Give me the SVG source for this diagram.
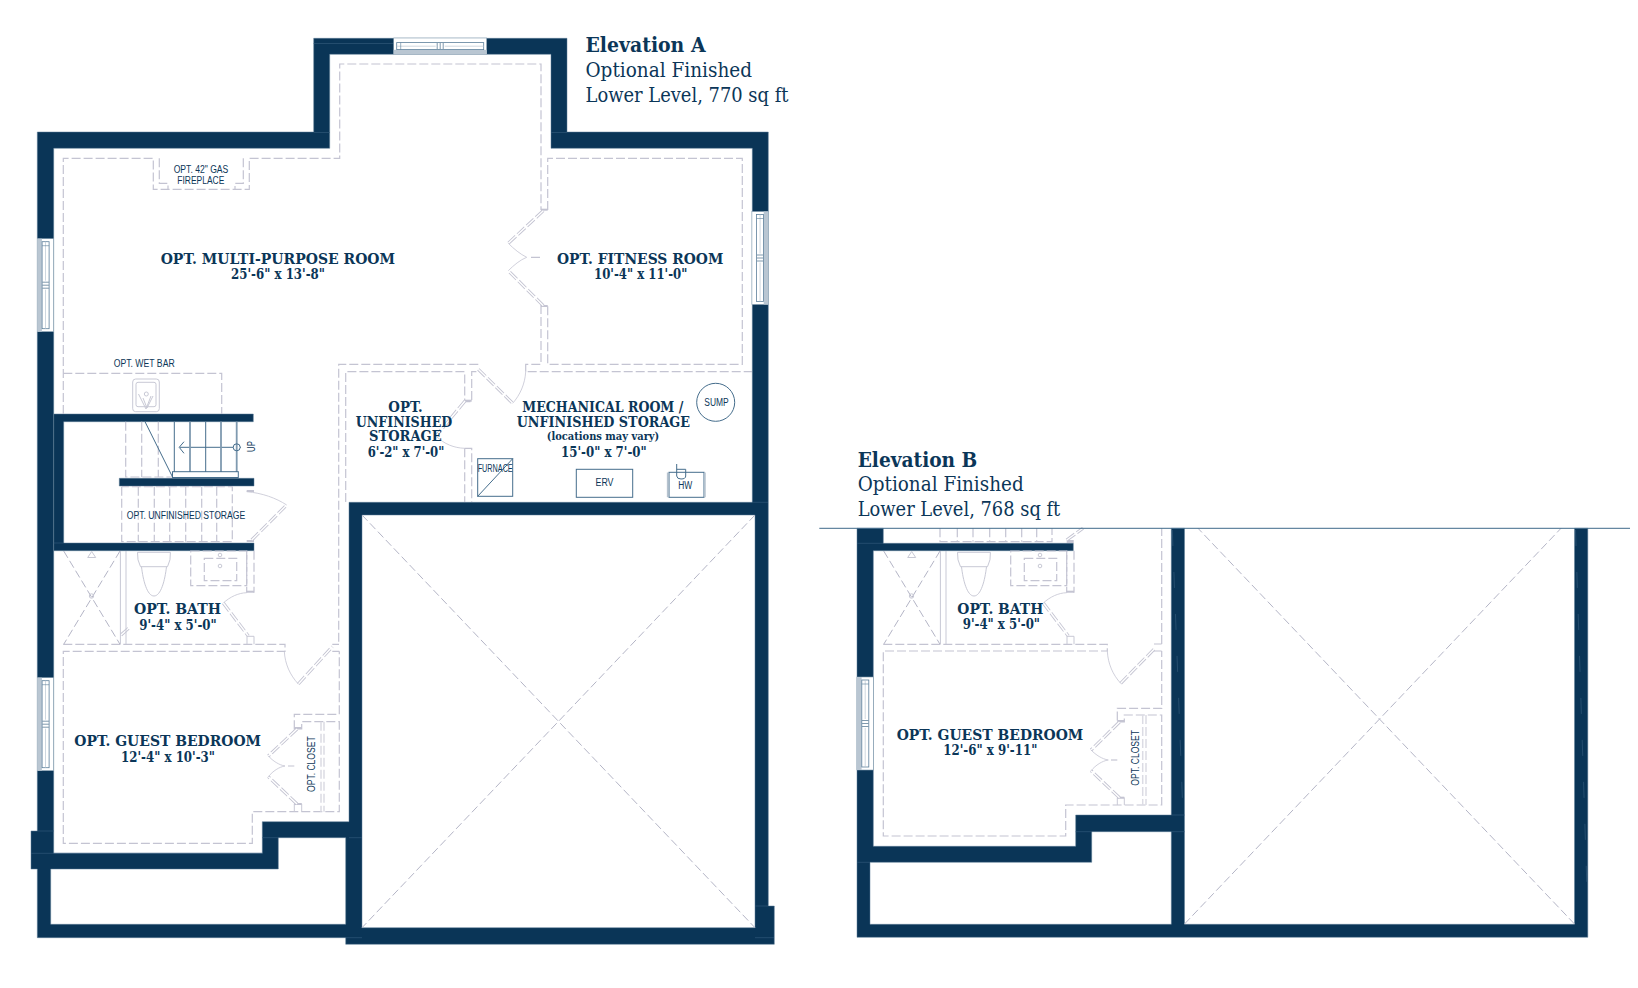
<svg xmlns="http://www.w3.org/2000/svg" xmlns:xlink="http://www.w3.org/1999/xlink" width="1638" height="988" viewBox="0 0 1638 988">
<style>
.wall{fill:#0a3557;fill-rule:evenodd;stroke:#5f7f99;stroke-width:.5}
.seam{stroke:#2f5878;stroke-width:.7;fill:none}
.streak{stroke:#2f5878;stroke-width:.7;fill:none;stroke-dasharray:16 26}
.dash{fill:none;stroke:#c4c4d2;stroke-width:1.2;stroke-dasharray:9 3}
.dashl{fill:none;stroke:#dcdce4;stroke-width:1.5;stroke-dasharray:9 3}
.diag{fill:none;stroke:#b4b5c6;stroke-width:1;stroke-dasharray:8 3.5}
.arc{fill:none;stroke:#c4c4d2;stroke-width:.8}
.solid{fill:none;stroke:#c8c9d5;stroke-width:1}
.dro{fill:none;stroke:#c4c4d2;stroke-width:3.2;stroke-dasharray:10 2.5}
.dri{fill:none;stroke:#fff;stroke-width:1.4}
.jamb{fill:#c4c4d2}
.eq{fill:none;stroke:#456d8c;stroke-width:1}
.eqt{fill:none;stroke:#7f9ab0;stroke-width:1.8}
.eqg{fill:none;stroke:#b7c3cf;stroke-width:1.5}
.t{font-family:"DejaVu Serif","Liberation Serif",serif;fill:#0b3658}
.b{font-weight:700;font-size:15px}
.h{font-weight:700;font-size:20px}
.s{font-size:20px}
.n{font-weight:700;font-size:11.5px}
.l{font-family:"Liberation Sans",Arial,sans-serif;fill:#0b3658;font-size:10px}
.c{font-size:11.5px}
</style>
<defs>
<g id="win">
<rect width="16.4" height="93" fill="#fff" stroke="#7f99ad" stroke-width=".6"/>
<rect width="4.6" height="93" fill="#b9c6d2"/>
<rect x="4.8" y="3" width="7" height="87" fill="none" stroke="#5c7f9b" stroke-width=".8"/>
<path d="M8.2 3V42M8.2 51V90" stroke="#b9c6d2" stroke-width=".7" fill="none"/>
<path d="M4.8 43.5H11.8M4.8 46.5H11.8M4.8 49.5H11.8" stroke="#7f99ad" stroke-width="1" fill="none"/>
<path d="M4.8 7H11.8" stroke="#5c7f9b" stroke-width=".6" fill="none"/>
</g>
<g id="sink">
<rect x="132.7" y="379" width="26.6" height="32.7" rx="3" class="solid"/>
<rect x="136" y="382.3" width="20" height="24.4" rx="2" class="solid"/>
<circle cx="146.3" cy="394" r="2" class="solid"/>
<path d="M138.5 394L146 409L151 396M143 398L147 408L153 396" class="solid"/>
</g>
<path id="bathDoor" d="M223.3 603L248.3 636"/>
<g id="bathFix">
<path class="diag" d="M63.7 551L120 644.3M120 551L63.7 644.3"/>
<circle cx="91.5" cy="596" r="2.2" class="solid"/>
<path class="solid" d="M87.7 557.5H95.7L91.7 551.5Z"/>
<path class="solid" d="M120.4 551V644M126 551V644" stroke-width="1.3"/>
<path class="solid" d="M137.5 552.3H170.4Q171 560 167.5 566.7H140.5Q137 560 137.5 552.3ZM141.5 566.7C143 580 147 596 154 596C161 596 165 580 166.5 566.7"/>
<rect x="190.7" y="551" width="56" height="34.7" class="dash"/>
<rect x="204.3" y="558.3" width="32.4" height="22.4" class="dash"/>
<circle cx="220" cy="555" r="1.8" class="solid"/>
<circle cx="220" cy="566" r="1.8" class="solid"/>
<path class="dash" d="M254 550.7V592.7M246.7 550.7V592.7"/>
<rect class="jamb" x="246.7" y="590.7" width="7.3" height="2"/>
<path class="arc" d="M246.7 592.7C238 593 230 597 223.3 603"/>
<use href="#bathDoor" class="dro"/>
<use href="#bathDoor" class="dri"/>
<path class="solid" d="M247 644.3V636.3H254V644.3"/>
</g>
<path id="doorsA" d="M465 401L436 436M478.3 369.3L512.7 403.3M543.3 210.7L508.3 243.3M543.3 305.7L508.3 270.7M297 729L268.3 756M297 804L268.3 776.7M251.7 540L286.7 505M298.3 684L332.3 646.7M121 635L130 627"/>
<path id="doorsB" d="M1119.5 722L1091 750M1119.5 797.7L1091 770.7M1120.7 683.3L1154 649.3M1066.7 540L1083 528.3"/>
</defs>
<g id="plan-a">
<g id="walls-a">
<path class="wall" d="M37.3 132H313.7V38.3H567V132H768.3V906H774.3V944.3H345.7V937.7H37.3V869H31V831H37.3ZM53.7 148.3H329.7V54.3H551V148.3H752.3V502.3H349V821.7H262.3V853.3H53.7ZM50.7 869H278.3V837.7H345.7V924.3H50.7ZM362 515H755V927.7H362Z"/>
<path class="wall" d="M53.7 414H253.3V421.7H63.7V543H254V550.7H53.7ZM119.3 478.3H254V486H119.3Z"/>
<path class="seam" d="M313.7 43.5H393.5M329.7 132.5H313.7M551 132.5H567M752.3 502.3H768M37.3 831H53.7M31 853.3H262.3M262.3 837.7H278.3M349 837.7H362M345.7 937.7H362M755 937.7H774M53.7 543H63.7M755 906H768"/>
</g>
<g id="windows-a">
<use href="#win" transform="translate(37.3 238.7)"/>
<use href="#win" transform="translate(37.3 677.7)"/>
<use href="#win" transform="translate(768.3 211.5) scale(-1 1)"/>
<use href="#win" transform="translate(393.7 54.4) rotate(-90)"/>
</g>
<g id="interior-a">
<path class="dash" d="M63.3 414V158.3H153.3V189.3H249.3V158.3H339.7V64H541V210M547.7 210V158.3H742.3V364.3H547.7V305M541 305V364.3H525.7V371.7H752M478.3 364.3H338.7V644.3M345.7 502V371.7H464.7V401.7H471.7V371.7H478M464.7 448.3V502M464.7 448.3H471.7V502M159.3 158.3V183.3H168V189M243.3 158.3V183.3H235V189M63.3 373.3H221.7V414M525.7 364.3V371.7"/>
<path class="dash" d="M63.3 644.3H285V651.3H63.3V843.3H252.3V811.7H339.3V721.7H301.7V729H294.3V714.3H339.3V651.3M332.3 651.3H339.3M332.3 644.3H339"/>
<path class="solid" d="M294.3 811.7V804H301.7V811.7"/>
<path class="dashl" d="M321 721.7V811.7M324 721.7V811.7"/>
<rect class="jamb" x="541" y="208.7" width="6.7" height="2"/>
<rect class="jamb" x="541" y="305" width="6.7" height="2"/>
<rect class="jamb" x="464.7" y="399.7" width="7" height="2"/>
<rect class="jamb" x="294.3" y="727" width="7.4" height="2"/>
<rect class="jamb" x="294.3" y="803" width="7.4" height="2"/>
<rect class="jamb" x="246.7" y="490" width="7.3" height="2"/>
<rect class="jamb" x="246.7" y="540" width="7.3" height="2"/>
<use href="#doorsA" class="dro"/>
<use href="#doorsA" class="dri"/>
<path class="arc" d="M436 436C444 444 454 448 464.7 448.3M512.7 403.3C520 395 525 384 525.7 371.7M508.3 243.3C514 249 520 254 526.7 257.3M508.3 270.7C514 265 520 260 526.7 257.3M268.3 756C273 761 279 765 285 766M268.3 776.7C273 771 279 767 285 766M246.7 491.7C262 493 276 498 286.7 505M284.3 651.3C285 664 290 675 298.3 684"/>
<path class="dash" d="M531 257.3H541M288 766H294.3"/>
<use href="#bathFix"/>
<use href="#sink"/>
<path class="dash" d="M125.7 421.7V477H172M141.7 421.7V477M158.3 421.7V477"/>
<path class="dash" d="M121.7 486.7V541.7H232.3V486.7H121.7M138.3 486.7V541.7M154.3 486.7V541.7M169.7 486.7V541.7M185.7 486.7V541.7M201.7 486.7V541.7M216.7 486.7V541.7"/>
<path class="eq" d="M145 421.7L172.7 477.3M174.3 421.7V472M205.7 421.7V472M180 447.3H233.2M240.2 447.3H241M184 441.7L179.2 447.3L184 453.3"/>
<path class="eqt" d="M190 421.7V472M221 421.7V472M236.7 421.7V472"/>
<rect class="eq" x="172.5" y="471.7" width="65.8" height="5.8"/>
<circle class="eq" cx="236.7" cy="447.3" r="3.5"/>
</g>
<g id="equipment-a">
<circle class="eq" cx="715.7" cy="402.3" r="19"/>
<rect class="eq" x="477.7" y="458.7" width="35" height="37.6"/>
<path class="eq" d="M477.7 496.3L512.7 458.7"/>
<rect class="eq" x="576.3" y="469.3" width="56.4" height="28"/>
<rect class="eq" x="669" y="472.3" width="35" height="25"/>
<path class="eqg" d="M667.6 472.5V497.3M705 472.5V497.3"/>
<path class="eq" d="M676.7 464V476Q677 479 681 479Q685.7 479 685.7 476V469.3H676.7"/>
</g>
<path class="diag" d="M362 515L755 927.7M755 515L362 927.7"/>
<g id="labels-a">
<text class="t h" x="585.5" y="52.3" textLength="120" lengthAdjust="spacingAndGlyphs">Elevation A</text>
<text class="t s" x="585.5" y="77.3" textLength="166.5" lengthAdjust="spacingAndGlyphs">Optional Finished</text>
<text class="t s" x="585.5" y="101.7" textLength="203" lengthAdjust="spacingAndGlyphs">Lower Level, 770 sq ft</text>
<text class="t b" x="160.7" y="264.3" textLength="234.3" lengthAdjust="spacingAndGlyphs">OPT. MULTI-PURPOSE ROOM</text>
<text class="t b" x="231" y="279.3" textLength="94" lengthAdjust="spacingAndGlyphs">25'-6" x 13'-8"</text>
<text class="t b" x="557" y="264.3" textLength="166.3" lengthAdjust="spacingAndGlyphs">OPT. FITNESS ROOM</text>
<text class="t b" x="594" y="279.3" textLength="93.3" lengthAdjust="spacingAndGlyphs">10'-4" x 11'-0"</text>
<text class="t b" x="388.3" y="411.7" textLength="34.4" lengthAdjust="spacingAndGlyphs">OPT.</text>
<text class="t b" x="355.7" y="426.7" textLength="96.6" lengthAdjust="spacingAndGlyphs">UNFINISHED</text>
<text class="t b" x="369" y="441" textLength="72.7" lengthAdjust="spacingAndGlyphs">STORAGE</text>
<text class="t b" x="367.7" y="457" textLength="76.6" lengthAdjust="spacingAndGlyphs">6'-2" x 7'-0"</text>
<text class="t b" x="522.3" y="411.7" textLength="161" lengthAdjust="spacingAndGlyphs">MECHANICAL ROOM /</text>
<text class="t b" x="516.7" y="426.7" textLength="173.3" lengthAdjust="spacingAndGlyphs">UNFINISHED STORAGE</text>
<text class="t n" x="546.7" y="440.3" textLength="112.6" lengthAdjust="spacingAndGlyphs">(locations may vary)</text>
<text class="t b" x="561" y="457" textLength="85.7" lengthAdjust="spacingAndGlyphs">15'-0" x 7'-0"</text>
<text class="t b" x="134" y="614" textLength="87" lengthAdjust="spacingAndGlyphs">OPT. BATH</text>
<text class="t b" x="139.3" y="630" textLength="77.4" lengthAdjust="spacingAndGlyphs">9'-4" x 5'-0"</text>
<text class="t b" x="74.3" y="745.7" textLength="186.7" lengthAdjust="spacingAndGlyphs">OPT. GUEST BEDROOM</text>
<text class="t b" x="121" y="761.7" textLength="94" lengthAdjust="spacingAndGlyphs">12'-4" x 10'-3"</text>
<text class="l" x="173.7" y="173" textLength="54.6" lengthAdjust="spacingAndGlyphs">OPT. 42" GAS</text>
<text class="l" x="177.3" y="184" textLength="47" lengthAdjust="spacingAndGlyphs">FIREPLACE</text>
<text class="l" x="113.7" y="366.7" textLength="61" lengthAdjust="spacingAndGlyphs">OPT. WET BAR</text>
<text class="l" x="126.7" y="518.7" textLength="118.6" lengthAdjust="spacingAndGlyphs">OPT. UNFINISHED STORAGE</text>
<text class="l" x="704.3" y="405.7" textLength="24.4" lengthAdjust="spacingAndGlyphs">SUMP</text>
<text class="l" x="477.7" y="472" textLength="35" lengthAdjust="spacingAndGlyphs">FURNACE</text>
<text class="l" x="595.5" y="486" textLength="18" lengthAdjust="spacingAndGlyphs">ERV</text>
<text class="l" x="678.3" y="489" textLength="14" lengthAdjust="spacingAndGlyphs">HW</text>
<text class="l" transform="translate(255 452) rotate(-90)" textLength="11" lengthAdjust="spacingAndGlyphs">UP</text>
<text class="l c" transform="translate(315 792) rotate(-90)" textLength="55.7" lengthAdjust="spacingAndGlyphs">OPT. CLOSET</text>
</g>
</g>
<g id="plan-b">
<g id="walls-b">
<path class="wall" d="M857 528.3H883.3V543.3H1073.3V550.7H873.3V846.3H1075.7V815H1171.3V528.3H1184.5V924.3H1574.5V528.3H1587.8V937.3H857ZM870 862.3H1091.7V831.7H1171.3V924.3H870Z"/>
<path class="streak" d="M1172.3 530L1183 815M1575.5 530L1587 890"/>
<path class="seam" d="M857 862.3H870M1075.7 831.7H1091.7M1171.3 815H1184.5M1171.3 831.7H1184.5M857 543.3H883"/>
</g>
<use href="#win" transform="translate(857 677)"/>
<g id="interior-b">
<use href="#bathFix" transform="translate(820 0)"/>
<path class="dash" d="M883.3 644.3H1107.3V651H883.3V836H1065.7V805H1161.7V715H1124.3V722H1117.3V708.3H1161.7V651M1154 651H1161.7M1154 644H1161.7M1161.7 644V528.3"/>
<path class="solid" d="M1117.3 805V797.7H1124.3V805"/>
<path class="dashl" d="M1142.7 715V805M1146 715V805"/>
<path class="dash" d="M940 528.3V541.7H1052V528.3M957.3 528.3V541.7M973 528.3V541.7M989.7 528.3V541.7M1005.7 528.3V541.7M1021.7 528.3V541.7M1036.7 528.3V541.7"/>
<rect class="jamb" x="1117.3" y="720" width="7" height="2"/>
<rect class="jamb" x="1117.3" y="796.7" width="7" height="2"/>
<rect class="jamb" x="1066.7" y="540" width="7" height="3"/>
<use href="#doorsB" class="dro"/>
<use href="#doorsB" class="dri"/>
<path class="arc" d="M1091 750C1096 755 1102 759 1108.3 760M1091 770.7C1096 765 1102 761 1108.3 760M1107.3 651C1108 664 1113 675 1120.7 683.3"/>
<path class="dash" d="M1111 760H1117.3"/>
</g>
<path class="diag" d="M1184.5 924L1561 528.3M1574.5 924L1198 528.3"/>
<path id="divider" d="M819.3 528.3H1630" stroke="#3f6a8a" stroke-width="1" fill="none"/>
<g id="labels-b">
<text class="t h" x="857.7" y="466.7" textLength="119.6" lengthAdjust="spacingAndGlyphs">Elevation B</text>
<text class="t s" x="857.7" y="491" textLength="166" lengthAdjust="spacingAndGlyphs">Optional Finished</text>
<text class="t s" x="857.7" y="516" textLength="202.6" lengthAdjust="spacingAndGlyphs">Lower Level, 768 sq ft</text>
<text class="t b" x="957.3" y="614" textLength="86" lengthAdjust="spacingAndGlyphs">OPT. BATH</text>
<text class="t b" x="962.7" y="629.3" textLength="77.3" lengthAdjust="spacingAndGlyphs">9'-4" x 5'-0"</text>
<text class="t b" x="896.7" y="740" textLength="186.6" lengthAdjust="spacingAndGlyphs">OPT. GUEST BEDROOM</text>
<text class="t b" x="943.3" y="755" textLength="94" lengthAdjust="spacingAndGlyphs">12'-6" x 9'-11"</text>
<text class="l c" transform="translate(1139 785.7) rotate(-90)" textLength="55.7" lengthAdjust="spacingAndGlyphs">OPT. CLOSET</text>
</g>
</g>
</svg>
